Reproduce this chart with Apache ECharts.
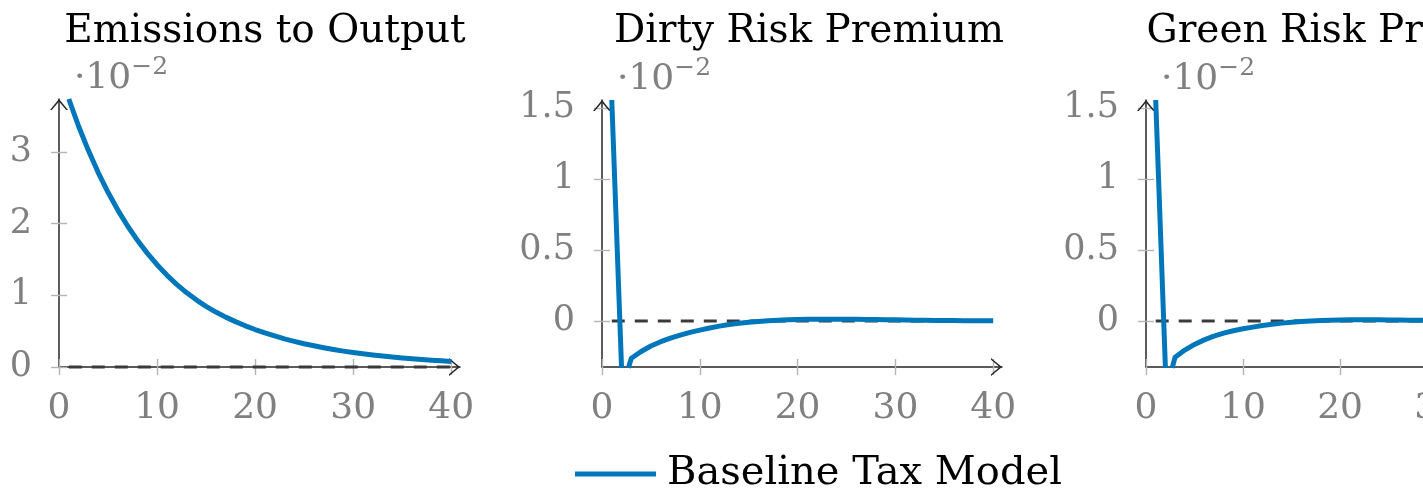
<!DOCTYPE html>
<html><head><meta charset="utf-8">
<script src="https://cdn.jsdelivr.net/npm/echarts@6/dist/echarts.min.js"></script>
<style>html,body{margin:0;padding:0;background:#fff;overflow:hidden;width:1423px;height:488px;}#c{width:1560px;height:488px;}</style>
</head><body><div id="c"></div>
<script>
// ---------- data ----------
const titles = ['Emissions to Output', 'Dirty Risk Premium', 'Green Risk Premium'];
const seriesName = 'Baseline Tax Model';
const multiplierLabel = '·10';
const multiplierExp = '−2';
const xTicks = [0, 10, 20, 30, 40];
const yTicksEmis = [0, 1, 2, 3];
const yTicksPrem = [0, 0.5, 1, 1.5];

const time = [1,2,3,4,5,6,7,8,9,10,11,12,13,14,15,16,17,18,19,20,
              21,22,23,24,25,26,27,28,29,30,31,32,33,34,35,36,37,38,39,40];
const zeroLine = [0,0,0,0,0,0,0,0,0,0,0,0,0,0,0,0,0,0,0,0,
                  0,0,0,0,0,0,0,0,0,0,0,0,0,0,0,0,0,0,0,0];
const emissions = [3.74,3.36,3.02,2.713,2.438,2.19,1.968,1.768,1.589,1.428,
                   1.283,1.154,1.039,0.937,0.847,0.767,0.696,0.633,0.575,0.523,
                   0.476,0.433,0.393,0.358,0.325,0.296,0.269,0.245,0.222,0.202,
                   0.184,0.167,0.152,0.138,0.126,0.114,0.104,0.095,0.086,0.078];
// risk premia: the path leaves the plotted range between t=2 and t~2.7 ('-' = break)
const premT = [1,2,'-',2.7,3,4,5,6,7,8,9,10,11,12,13,14,15,16,17,18,19,20,
               21,22,23,24,25,26,27,28,29,30,31,32,33,34,35,36,37,38,39,40];
const dirty = [1.556,-0.33,'-',-0.33,-0.262,-0.215,-0.176,-0.146,-0.121,-0.099,-0.080,-0.064,
               -0.049,-0.036,-0.025,-0.016,-0.009,-0.003,0.002,0.006,0.009,0.011,
               0.012,0.013,0.013,0.013,0.012,0.012,0.011,0.010,0.009,0.008,
               0.007,0.006,0.005,0.004,0.0035,0.003,0.0025,0.002,0.0015,0.001];
const green = [1.556,-0.33,'-',-0.33,-0.255,-0.205,-0.165,-0.133,-0.107,-0.086,-0.069,-0.055,
               -0.043,-0.032,-0.023,-0.015,-0.009,-0.004,0.0,0.003,0.005,0.007,
               0.008,0.008,0.008,0.008,0.007,0.007,0.006,0.006,0.005,0.005,
               0.004,0.004,0.003,0.003,0.002,0.002,0.0015,0.001,0.001,0.001];

// ---------- style / layout ----------
const FONT = "'DejaVu Serif', serif";
const BLUE = '#0077BB';
const GRAY = '#808080';
const AXIS = '#262626';
const TICK = '#b4b4b4';
const CHEVRON = 'path://M0,11 L9,0 L18,11 L16.2,11 L9,2.4 L1.8,11 Z';

const panels = [
  {left: 59,   width: 401, top: 99,  bottom: 121, ymin: 0,      ymax: 3.74,  yTicks: yTicksEmis, xs: time,  ys: emissions, titleX: 260},
  {left: 602,  width: 400, top: 100, bottom: 121, ymin: -0.324, ymax: 1.556, yTicks: yTicksPrem, xs: premT, ys: dirty,     titleX: 804},
  {left: 1146, width: 401, top: 100, bottom: 121, ymin: -0.324, ymax: 1.556, yTicks: yTicksPrem, xs: premT, ys: green,     titleX: 1347}
];
const XMAX = 40.9;

const pairs = (xs, ys) => xs.map((x, i) => [x, ys[i]]);

const option = {
  animation: false,
  backgroundColor: '#fff',
  title: panels.map((p, i) => ({
    text: titles[i], left: p.titleX, top: 7, textAlign: 'center',
    textStyle: {fontFamily: FONT, fontSize: 39, fontWeight: 'normal', color: '#000'}
  })),
  legend: {
    data: [{name: seriesName, icon: 'rect'}], left: 570, top: 449, itemWidth: 81, itemHeight: 5,
    textStyle: {fontFamily: FONT, fontSize: 40, color: '#000', padding: [0, 0, 0, 6]}
  },
  grid: panels.map(p => ({left: p.left, width: p.width, top: p.top, bottom: p.bottom, containLabel: false})),
  xAxis: [],
  yAxis: [],
  series: []
};

const tickLine = {color: TICK, width: 1.4};
const axisArrow = {symbol: ['none', CHEVRON], symbolSize: [18, 11], symbolOffset: [0, -5.5]};
panels.forEach((p, i) => {
  option.xAxis.push({
    gridIndex: i, type: 'value', min: 0, max: XMAX, position: 'bottom',
    axisLine: Object.assign({show: true, onZero: false, lineStyle: {color: AXIS, width: 1.5}}, axisArrow),
    axisTick: {show: true, inside: false, length: 8, customValues: xTicks, lineStyle: tickLine},
    axisLabel: {customValues: xTicks, margin: 24, color: GRAY, fontFamily: FONT, fontSize: 36},
    splitLine: {show: false}
  });
  option.xAxis.push({
    gridIndex: i, type: 'value', min: 0, max: XMAX, position: 'bottom',
    axisLine: {show: false, onZero: false},
    axisTick: {show: true, inside: true, length: 8, customValues: xTicks, lineStyle: tickLine},
    axisLabel: {show: false}, splitLine: {show: false}
  });
  option.yAxis.push({
    gridIndex: i, type: 'value', min: p.ymin, max: p.ymax, position: 'left',
    axisLine: Object.assign({show: true, onZero: false, lineStyle: {color: AXIS, width: 1.5}}, axisArrow),
    axisTick: {show: true, inside: false, length: 8, customValues: p.yTicks, lineStyle: tickLine},
    axisLabel: {customValues: p.yTicks, margin: 27, color: GRAY, fontFamily: FONT, fontSize: 35},
    splitLine: {show: false},
    name: '{a|' + multiplierLabel + '}{b|' + multiplierExp + '}',
    nameLocation: 'end', nameGap: 2,
    nameTextStyle: {align: 'left', verticalAlign: 'bottom', padding: [0, 0, 0, 15],
      rich: {
        a: {fontFamily: FONT, fontSize: 36, color: GRAY, lineHeight: 42, verticalAlign: 'bottom'},
        b: {fontFamily: FONT, fontSize: 25, color: GRAY, lineHeight: 25, verticalAlign: 'top'}
      }}
  });
  option.yAxis.push({
    gridIndex: i, type: 'value', min: p.ymin, max: p.ymax, position: 'left',
    axisLine: {show: false, onZero: false},
    axisTick: {show: true, inside: true, length: 8, customValues: p.yTicks, lineStyle: tickLine},
    axisLabel: {show: false}, splitLine: {show: false}
  });
  option.series.push({
    name: 'zero', type: 'line', xAxisIndex: 2 * i, yAxisIndex: 2 * i,
    data: pairs(time, zeroLine), showSymbol: false, symbol: 'none', silent: true, clip: false,
    lineStyle: {color: '#3a3a3a', width: 3, type: [13, 10]}, z: 3
  });
  option.series.push({
    name: seriesName, type: 'line', xAxisIndex: 2 * i, yAxisIndex: 2 * i,
    data: pairs(p.xs, p.ys), showSymbol: false, symbol: 'none', connectNulls: false, clip: true,
    lineStyle: {color: BLUE, width: 5, join: 'round', cap: 'butt'}, itemStyle: {color: BLUE}, z: 4
  });
});

const chart = echarts.init(document.getElementById('c'), null, {renderer: 'canvas'});
chart.setOption(option);
</script></body></html>
